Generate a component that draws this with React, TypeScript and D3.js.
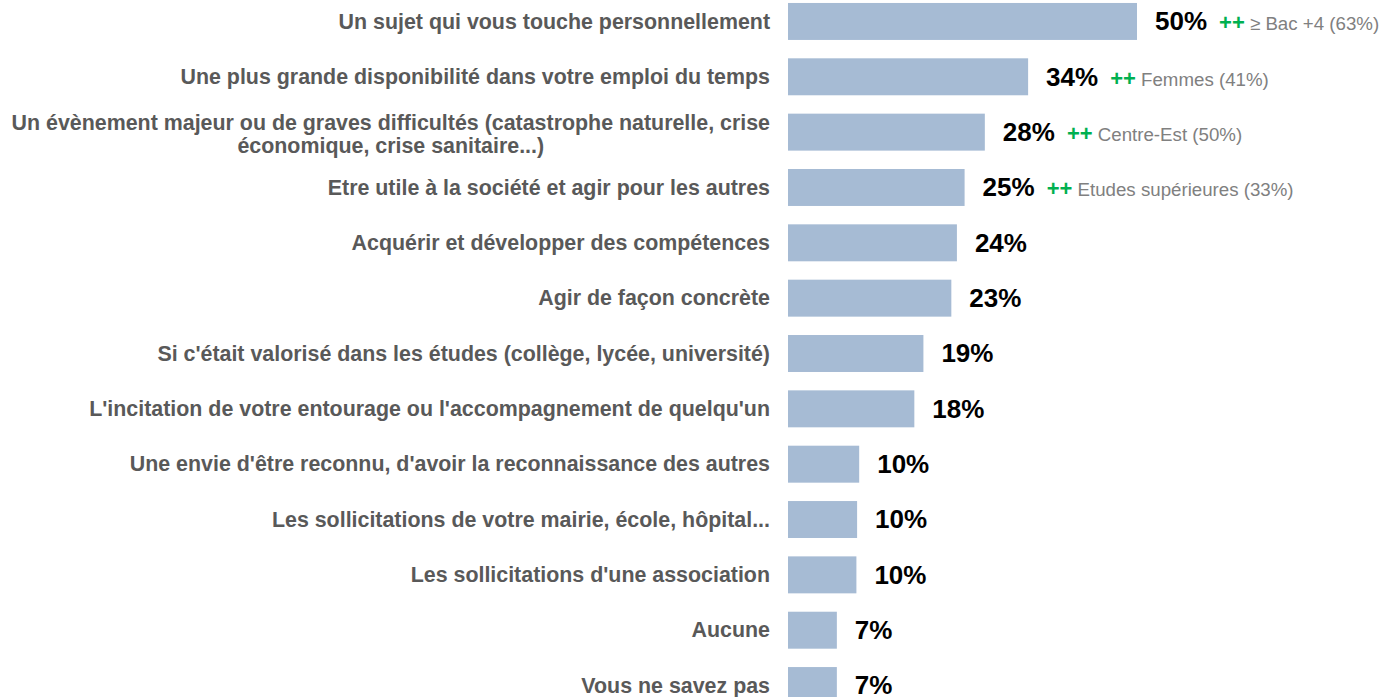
import React from "react";
import * as d3 from "d3";

const categories = [
  "Un sujet qui vous touche personnellement",
  "Une plus grande disponibilité dans votre emploi du temps",
  "Un évènement majeur ou de graves difficultés (catastrophe naturelle, crise\néconomique, crise sanitaire...)",
  "Etre utile à la société et agir pour les autres",
  "Acquérir et développer des compétences",
  "Agir de façon concrète",
  "Si c'était valorisé dans les études (collège, lycée, université)",
  "L'incitation de votre entourage ou l'accompagnement de quelqu'un",
  "Une envie d'être reconnu, d'avoir la reconnaissance des autres",
  "Les sollicitations de votre mairie, école, hôpital...",
  "Les sollicitations d'une association",
  "Aucune",
  "Vous ne savez pas",
];

const values = [50.0, 34.4, 28.2, 25.3, 24.2, 23.4, 19.4, 18.1, 10.2, 9.9, 9.8, 7.0, 7.0];

const significance: (string | null)[] = [
  "≥ Bac +4 (63%)",
  "Femmes (41%)",
  "Centre-Est (50%)",
  "Etudes supérieures (33%)",
  null, null, null, null, null, null, null, null, null,
];

const W = 1383;
const H = 697;
const FONT = "'Liberation Sans', Arial, Helvetica, sans-serif";
const LABEL_SIZE = 21.4;
const VALUE_SIZE = 26;

let ctx: CanvasRenderingContext2D | null = null;
function measure(text: string, font: string): number {
  if (!ctx) {
    const c = document.createElement("canvas");
    ctx = c.getContext("2d");
  }
  if (!ctx) return text.length * 10;
  ctx.font = font;
  return ctx.measureText(text).width;
}

export default function App() {
  const x = d3.scaleLinear().domain([0, 50]).range([788, 1137]);
  const y = d3.scaleBand<string>().domain(categories).range([-15.4, 722.4]).padding(0.332);
  const labelRight = 770;

  return (
    <svg
      width={W}
      height={H}
      style={{ position: "absolute", left: 0, top: 0, background: "#fff" }}
      fontFamily={FONT}
    >
      {categories.map((cat, i) => {
        const y0 = y(cat)!;
        const cy = y0 + y.bandwidth() / 2;
        const v = values[i];
        const xEnd = x(v);
        const lines = cat.split("\n");
        const lineH = 23;
        const labelFont = `bold ${LABEL_SIZE}px ${FONT}`;
        let labelEl;
        if (lines.length === 1) {
          labelEl = (
            <text
              x={labelRight}
              y={cy + LABEL_SIZE * 0.34}
              textAnchor="end"
              fontSize={LABEL_SIZE}
              fontWeight="bold"
              fill="#595959"
            >
              {cat}
            </text>
          );
        } else {
          const widths = lines.map((l) => measure(l, labelFont));
          const maxW = Math.max(...widths);
          const cx = labelRight - maxW / 2;
          labelEl = (
            <text textAnchor="middle" fontSize={LABEL_SIZE} fontWeight="bold" fill="#595959">
              {lines.map((l, k) => (
                <tspan
                  key={k}
                  x={cx}
                  y={cy + 2 + (k - (lines.length - 1) / 2) * lineH + LABEL_SIZE * 0.34}
                >
                  {l}
                </tspan>
              ))}
            </text>
          );
        }
        const sig = significance[i];
        return (
          <g key={cat}>
            {labelEl}
            <rect x={x(0)} y={y0} width={xEnd - x(0)} height={y.bandwidth()} fill="#a6bbd4" />
            <text x={xEnd + 18} y={cy + VALUE_SIZE * 0.34} fontSize={VALUE_SIZE} fontWeight="bold" fill="#000">
              {`${Math.round(v)}%`}
              {sig && (
                <>
                  <tspan dx={12} fontSize={22} fill="#00b050">
                    ++
                  </tspan>
                  <tspan fontSize={18.7} fontWeight="normal" fill="#808080">
                    {" " + sig}
                  </tspan>
                </>
              )}
            </text>
          </g>
        );
      })}
    </svg>
  );
}
